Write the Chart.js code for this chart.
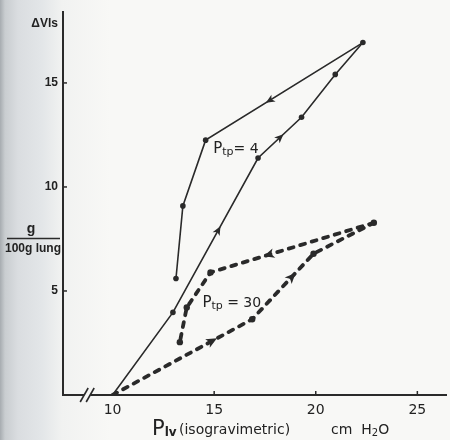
<!DOCTYPE html>
<html><head><meta charset="utf-8">
<script src="https://cdn.jsdelivr.net/npm/chart.js@4/dist/chart.umd.min.js"></script>
<style>
html,body{margin:0;padding:0;background:#f8f8f6;}
#wrap{width:450px;height:440px;position:relative;background:linear-gradient(to right,#a7acb0 0px,#c9cdd0 5px,#dadde0 18px,#e3e6e8 42px,#f1f2f1 62px,#f8f8f6 110px);}
canvas{display:block}
</style>
</head><body><div id="wrap"><canvas id="c" width="450" height="440"></canvas></div>
<script>
// ---- data ----
const xTicks = [10, 15, 20, 25];
const yTicks = [5, 10, 15];
// Ptp = 4 (solid): inflation then deflation
const ptp4InX  = [10, 12.97, 17.16, 19.30, 20.96, 22.32];
const ptp4InY  = [0, 3.97, 11.39, 13.35, 15.41, 16.94];
const ptp4OutX = [22.32, 14.58, 13.46, 13.12];
const ptp4OutY = [16.94, 12.25, 9.09, 5.60];
// Ptp = 30 (dashed): inflation then deflation
const ptp30InX  = [10, 16.87, 19.89, 22.86];
const ptp30InY  = [0, 3.64, 6.79, 8.28];
const ptp30OutX = [22.86, 14.82, 13.65, 13.31];
const ptp30OutY = [8.28, 5.89, 4.21, 2.54];
const labels = {p4: ['P', 'tp', '= 4'], p30: ['P', 'tp', '= 30']};

const pts = (xs, ys) => xs.map((x, i) => ({x, y: ys[i]}));
const ink = '#2a2a2a';
const radii = (n) => Array.from({length: n}, (_, i) => i === 0 ? 0 : 2.8);

const solid = {showLine: true, borderColor: ink, backgroundColor: ink, borderWidth: 1.6, pointBorderWidth: 0, fill: false, tension: 0};
const dashed = {showLine: true, borderColor: ink, backgroundColor: ink, borderWidth: 3.8, borderDash: [5, 7], borderCapStyle: 'round', pointBorderWidth: 0, fill: false, tension: 0};

const datasets = [
  Object.assign({data: pts(ptp4InX, ptp4InY), pointRadius: radii(ptp4InX.length)}, solid),
  Object.assign({data: pts(ptp4OutX, ptp4OutY), pointRadius: radii(ptp4OutX.length)}, solid),
  Object.assign({data: pts(ptp30InX, ptp30InY), pointRadius: radii(ptp30InX.length).map(r => r ? 3.2 : 0)}, dashed),
  Object.assign({data: pts(ptp30OutX, ptp30OutY), pointRadius: radii(ptp30OutX.length).map(r => r ? 3.2 : 0)}, dashed)
];

// arrowheads placed along segments of the datasets
const arrows = [
  {ds: 0, seg: 1, t: 0.53, s: 1}, {ds: 0, seg: 2, t: 0.5, s: 1}, {ds: 1, seg: 0, t: 0.59, s: 1},
  {ds: 2, seg: 0, t: 0.71, s: 1.2}, {ds: 2, seg: 1, t: 0.64, s: 1.2}, {ds: 3, seg: 0, t: 0.64, s: 1.2}
];

const decor = {
  id: 'decor',
  afterDraw(chart) {
    const ctx = chart.ctx, xs = chart.scales.x, ys = chart.scales.y, ca = chart.chartArea;
    ctx.save();
    // inward tick marks
    ctx.strokeStyle = ink; ctx.lineWidth = 1.5;
    yTicks.forEach(v => { const p = ys.getPixelForValue(v); ctx.beginPath(); ctx.moveTo(ca.left, p); ctx.lineTo(ca.left + 4, p); ctx.stroke(); });
    xTicks.slice(1).forEach(v => { const p = xs.getPixelForValue(v); ctx.beginPath(); ctx.moveTo(p, ca.bottom); ctx.lineTo(p, ca.bottom - 4); ctx.stroke(); });
    // axis break
    const bx = xs.getPixelForValue(8.75), by = ca.bottom;
    ctx.fillStyle = '#f8f8f6'; ctx.fillRect(bx - 3, by - 2, 6, 4);
    ctx.lineWidth = 1.6;
    [-3, 3].forEach(o => { ctx.beginPath(); ctx.moveTo(bx + o - 4, by + 7); ctx.lineTo(bx + o + 4, by - 7); ctx.stroke(); });
    // arrowheads
    ctx.fillStyle = ink;
    arrows.forEach(a => {
      const d = chart.getDatasetMeta(a.ds).data;
      const p0 = d[a.seg], p1 = d[a.seg + 1];
      const dx = p1.x - p0.x, dy = p1.y - p0.y, L = Math.hypot(dx, dy);
      const ux = dx / L, uy = dy / L, px = -uy, py = ux;
      const cx = p0.x + dx * a.t, cy = p0.y + dy * a.t;
      const tip = 5 * a.s, back = 4 * a.s, w = 4 * a.s;
      ctx.beginPath();
      ctx.moveTo(cx + ux * tip, cy + uy * tip);
      ctx.lineTo(cx - ux * back + px * w, cy - uy * back + py * w);
      ctx.lineTo(cx - ux * back * 0.4, cy - uy * back * 0.4);
      ctx.lineTo(cx - ux * back - px * w, cy - uy * back - py * w);
      ctx.closePath(); ctx.fill();
    });
    // text helpers
    const run = (x, y, parts) => {
      parts.forEach(([t, font, dy]) => { ctx.font = font; ctx.fillText(t, x, y + dy); x += ctx.measureText(t).width; });
    };
    ctx.fillStyle = '#222'; ctx.textBaseline = 'alphabetic'; ctx.textAlign = 'left';
    run(xs.getPixelForValue(14.95), ys.getPixelForValue(11.63), [
      [labels.p4[0], '15px "DejaVu Sans"', 0], [labels.p4[1], '11px "DejaVu Sans"', 2], [labels.p4[2], '14px "DejaVu Sans"', 0]]);
    run(xs.getPixelForValue(14.42), ys.getPixelForValue(4.21), [
      [labels.p30[0], '15px "DejaVu Sans"', 0], [labels.p30[1], '11px "DejaVu Sans"', 2], [' ' + labels.p30[2], '14px "DejaVu Sans"', 0]]);
    // axis titles
    run(152, 435, [['P', '21px "DejaVu Sans"', 0], ['lv', 'bold 12px "DejaVu Sans"', 1]]);
    run(179, 434, [['(isogravimetric)', '14px "DejaVu Sans"', 0]]);
    run(331, 434, [['cm  H', '14px "DejaVu Sans"', 0], ['2', '10px "DejaVu Sans"', 2], ['O', '14px "DejaVu Sans"', 0]]);
    ctx.textAlign = 'right';
    run(58, 27, [['\u0394Vls', 'bold 12px "Liberation Sans"', 0]]);
    ctx.textAlign = 'center';
    ctx.font = 'bold 14px "Liberation Sans"'; ctx.fillText('g', 31, 233);
    ctx.lineWidth = 1.5; ctx.beginPath(); ctx.moveTo(7, 238.5); ctx.lineTo(60, 238.5); ctx.stroke();
    ctx.font = 'bold 12px "Liberation Sans"'; ctx.fillText('100g lung', 33, 252);
    ctx.restore();
  }
};

new Chart(document.getElementById('c'), {
  type: 'scatter',
  data: {datasets},
  options: {
    responsive: false, animation: false,
    layout: {padding: {top: 10, right: 0, left: 0, bottom: 0}},
    plugins: {legend: {display: false}, tooltip: {enabled: false}},
    scales: {
      x: {
        type: 'linear', min: 7.56, max: 26.41,
        afterBuildTicks: s => { s.ticks = xTicks.map(v => ({value: v})); },
        afterFit: s => { s.height = 45; },
        grid: {display: false, drawTicks: false},
        border: {display: true, color: ink, width: 2},
        ticks: {padding: 7, color: '#222', font: {family: 'DejaVu Sans', size: 14}, callback: v => String(v)}
      },
      y: {
        type: 'linear', min: 0, max: 18.4,
        afterBuildTicks: s => { s.ticks = yTicks.map(v => ({value: v})); },
        afterFit: s => { s.width = 63; },
        grid: {display: false, drawTicks: false},
        border: {display: true, color: ink, width: 2},
        ticks: {padding: 5, color: '#222', font: {family: 'Liberation Sans', size: 12, weight: 'bold'}, callback: v => String(v)}
      }
    }
  },
  plugins: [decor]
});
</script>
</body></html>
